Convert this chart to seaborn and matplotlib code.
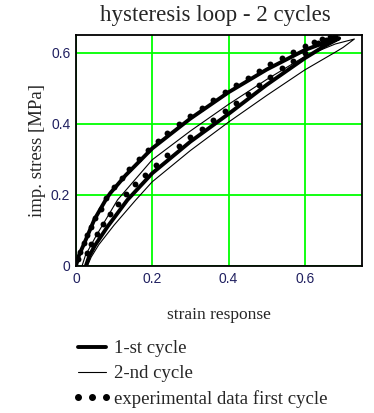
import numpy as np
import pandas as pd
import matplotlib
matplotlib.use("Agg")
import matplotlib.pyplot as plt
from matplotlib.lines import Line2D
import seaborn as sns

# --- data ---
# 1st cycle: loading branch then unloading branch
c1_load_x = [0.0, 0.008, 0.022, 0.048, 0.078, 0.09, 0.13, 0.2, 0.3, 0.4, 0.5, 0.6, 0.65, 0.69]
c1_load_y = [0.0, 0.03, 0.064, 0.13, 0.186, 0.205, 0.255, 0.331, 0.415, 0.489, 0.553, 0.608, 0.628, 0.641]
c1_unload_x = [0.69, 0.65, 0.6, 0.5, 0.4, 0.3, 0.2, 0.135, 0.083, 0.05, 0.035, 0.026]
c1_unload_y = [0.641, 0.618, 0.585, 0.51, 0.428, 0.35, 0.261, 0.186, 0.111, 0.058, 0.028, 0.0]

# 2nd cycle
c2_load_x = [0.016, 0.025, 0.052, 0.109, 0.2, 0.3, 0.4, 0.5, 0.6, 0.68, 0.73]
c2_load_y = [0.0, 0.03, 0.083, 0.186, 0.299, 0.38, 0.455, 0.525, 0.59, 0.625, 0.639]
c2_unload_x = [0.73, 0.7, 0.68, 0.6, 0.5, 0.4, 0.3, 0.2, 0.157, 0.1, 0.06, 0.04, 0.03]
c2_unload_y = [0.639, 0.615, 0.602, 0.552, 0.48, 0.405, 0.325, 0.237, 0.186, 0.115, 0.06, 0.025, 0.0]

# experimental data, first cycle
exp_x = [0.005, 0.012, 0.02, 0.03, 0.04, 0.05, 0.065, 0.08, 0.1, 0.12, 0.14, 0.165,
         0.19, 0.215, 0.24, 0.27, 0.3, 0.33, 0.36, 0.39, 0.42, 0.45, 0.48, 0.51,
         0.54, 0.57, 0.6, 0.625, 0.645, 0.665, 0.68,
         0.675, 0.655, 0.635, 0.6, 0.57, 0.54, 0.51, 0.48, 0.45, 0.42, 0.39, 0.36,
         0.33, 0.3, 0.27, 0.24, 0.21, 0.18, 0.155, 0.13, 0.11, 0.09, 0.07, 0.055,
         0.04, 0.03]
exp_y = [0.02, 0.04, 0.065, 0.088, 0.11, 0.135, 0.16, 0.19, 0.222, 0.248, 0.272, 0.3,
         0.327, 0.352, 0.374, 0.399, 0.423, 0.446, 0.468, 0.49, 0.51, 0.53, 0.55, 0.568,
         0.586, 0.603, 0.619, 0.63, 0.638, 0.645, 0.648,
         0.643, 0.636, 0.627, 0.6, 0.578, 0.556, 0.533, 0.51, 0.485, 0.46, 0.435, 0.41,
         0.385, 0.362, 0.337, 0.312, 0.285, 0.257, 0.23, 0.202, 0.175, 0.147, 0.117, 0.09,
         0.062, 0.037]

x_ticks = [0, 0.2, 0.4, 0.6]
y_ticks = [0, 0.2, 0.4, 0.6]
tick_labels = ["0", "0.2", "0.4", "0.6"]
legend_labels = ["1-st cycle", "2-nd cycle", "experimental data first cycle"]

cycle1 = pd.DataFrame({"strain": c1_load_x + c1_unload_x, "stress": c1_load_y + c1_unload_y})
cycle2 = pd.DataFrame({"strain": c2_load_x + c2_unload_x, "stress": c2_load_y + c2_unload_y})
exp_df = pd.DataFrame({"strain": exp_x, "stress": exp_y})

sns.set_style("white")
plt.rcParams["font.family"] = ["Liberation Serif", "DejaVu Serif"]

fig = plt.figure(figsize=(3.74, 4.13), dpi=100)
ax = fig.add_axes([0.203, 0.356, 0.765, 0.559])

sns.lineplot(data=cycle1, x="strain", y="stress", sort=False, estimator=None,
             color="black", linewidth=2.8, ax=ax)
sns.lineplot(data=cycle2, x="strain", y="stress", sort=False, estimator=None,
             color="black", linewidth=0.8, ax=ax)
sns.scatterplot(data=exp_df, x="strain", y="stress", color="black", s=18,
                marker="o", linewidth=0, ax=ax)

ax.set_xlim(0, 0.75)
ax.set_ylim(0, 0.65)
ax.set_xticks(x_ticks)
ax.set_yticks(y_ticks)
ax.set_xticklabels(tick_labels)
ax.set_yticklabels(tick_labels)
ax.grid(True, color="#00ff00", linewidth=1.3)
ax.set_axisbelow(True)
for s in ax.spines.values():
    s.set_color("black")
    s.set_linewidth(1.3)
ax.tick_params(length=0, labelsize=10, labelcolor="#202060", pad=4)
for lbl in ax.get_xticklabels() + ax.get_yticklabels():
    lbl.set_fontfamily("Liberation Sans")

fig.text(0.575, 1 - 15 / 413, "hysteresis loop - 2 cycles", fontsize=16.5,
         ha="center", va="center")
ax.set_xlabel("strain response", fontsize=12.5)
ax.set_ylabel("imp. stress [MPa]", fontsize=13.5)
ax.xaxis.set_label_coords(0.5, -0.178)
ax.yaxis.set_label_coords(-0.105, 0.5)

h1 = Line2D([], [], color="black", linewidth=2.8)
h2 = Line2D([], [], color="black", linewidth=0.8)
h3 = Line2D([], [], color="black", linestyle="none", marker="o", markersize=4)
fig.legend([h1, h2, h3], legend_labels, loc="upper left", numpoints=3,
           bbox_to_anchor=(0.173, 0.195), frameon=False, fontsize=13.5,
           handlelength=2.1, handletextpad=0.12, labelspacing=0.42, borderaxespad=0)

fig.savefig("out.png", dpi=100)
